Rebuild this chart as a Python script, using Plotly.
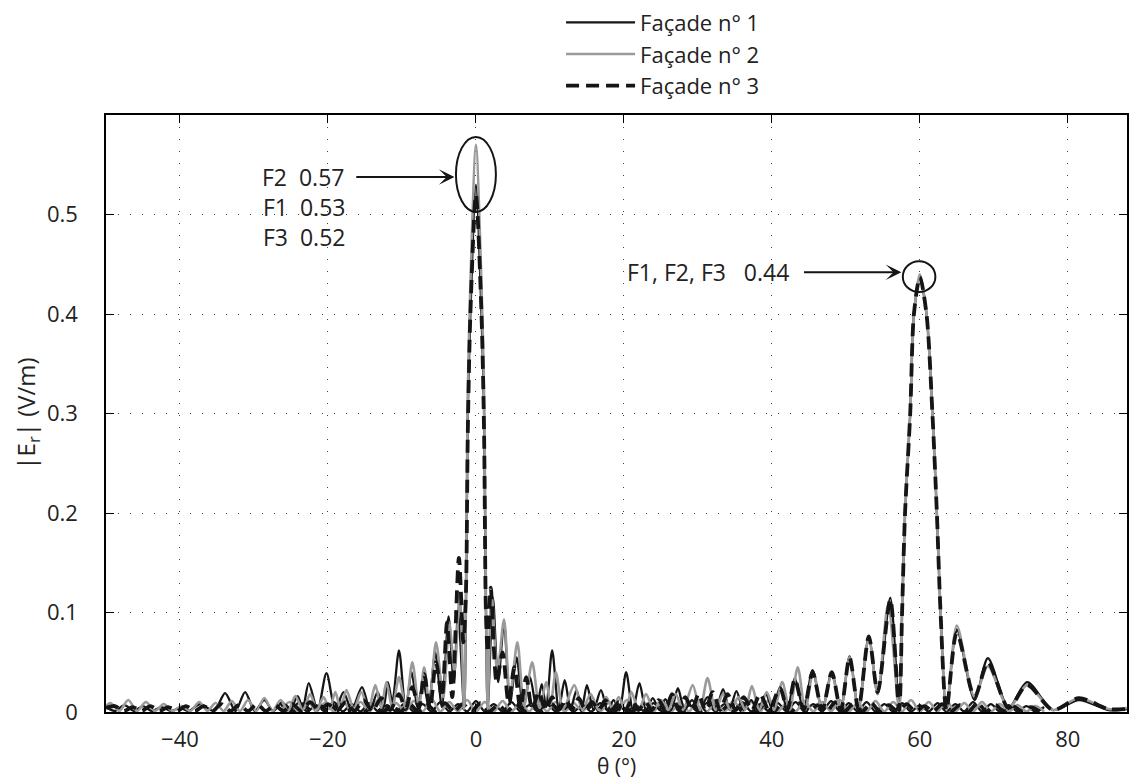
import plotly.graph_objects as go

# ---------------- data ----------------
f1_x = [-50.0, -48.8, -47.5, -46.2, -45.0, -43.8, -42.5, -41.2, -40.0, -38.8,
        -37.3, -35.4, -33.9, -32.5, -31.2, -29.9, -28.6, -27.4, -26.2, -25.2,
        -24.1, -23.4, -22.6, -21.4, -20.2, -19.0, -17.9, -16.8, -15.4, -14.3,
        -13.3, -12.5, -11.9, -11.3, -10.4, -9.5, -8.7, -7.9, -7.1, -6.4,
        -5.5, -4.6, -3.7, -3.0, -2.4, -1.6, -1.35, -1.1, -0.75, 0.0,
        0.75, 1.1, 1.35, 1.6, 2.3, 3.0, 3.8, 4.6, 5.5, 6.4,
        7.3, 8.2, 8.9, 9.5, 10.3, 11.2, 12.0, 12.8, 13.6, 14.3,
        15.0, 15.9, 16.9, 17.8, 18.6, 19.4, 20.3, 21.2, 22.1, 23.0,
        23.9, 24.8, 25.6, 26.4, 27.3, 28.2, 29.2, 30.2, 31.3, 32.4,
        33.4, 34.3, 35.2, 36.2, 37.2, 38.1, 39.2, 40.1, 41.1, 42.1,
        43.1, 44.3, 45.5, 46.8, 48.1, 49.3, 50.5, 51.7, 53.1, 54.3,
        56.0, 57.2, 57.6, 58.0, 58.7, 59.2, 60.0, 60.9, 61.7, 62.3,
        62.8, 63.6, 65.0, 67.4, 69.2, 72.0, 74.5, 78.0, 81.5, 85.5,
        88.0]
f1_y = [0.005, 0.001, 0.007, 0.001, 0.006, 0.001, 0.005, 0.001, 0.004, 0.001,
        0.008, 0.001, 0.019, 0.001, 0.020, 0.001, 0.012, 0.001, 0.010, 0.001,
        0.016, 0.004, 0.029, 0.002, 0.039, 0.002, 0.020, 0.002, 0.025, 0.002,
        0.020, 0.004, 0.030, 0.010, 0.062, 0.003, 0.040, 0.005, 0.030, 0.005,
        0.060, 0.005, 0.096, 0.030, 0.100, 0.004, 0.10, 0.30, 0.40, 0.53,
        0.40, 0.30, 0.10, 0.004, 0.115, 0.030, 0.090, 0.008, 0.055, 0.004,
        0.035, 0.004, 0.028, 0.005, 0.062, 0.003, 0.032, 0.003, 0.022, 0.003,
        0.027, 0.002, 0.022, 0.002, 0.012, 0.002, 0.040, 0.002, 0.029, 0.002,
        0.014, 0.002, 0.013, 0.002, 0.024, 0.002, 0.012, 0.002, 0.015, 0.002,
        0.023, 0.002, 0.021, 0.002, 0.012, 0.002, 0.018, 0.002, 0.025, 0.002,
        0.034, 0.002, 0.042, 0.002, 0.040, 0.002, 0.056, 0.003, 0.076, 0.018,
        0.115, 0.002, 0.10, 0.20, 0.30, 0.40, 0.437, 0.40, 0.30, 0.20,
        0.10, 0.002, 0.083, 0.012, 0.054, 0.004, 0.030, 0.002, 0.012, 0.002,
        0.003]

f2_x = [-50.0, -49.4, -48.2, -47.0, -45.8, -44.6, -43.4, -42.2, -41.0, -39.8,
        -38.6, -37.4, -36.3, -35.2, -34.1, -33.0, -31.9, -30.8, -29.7, -28.6,
        -27.5, -26.4, -25.4, -24.4, -23.4, -22.4, -21.5, -20.6, -19.8, -19.0,
        -18.3, -17.5, -16.5, -15.5, -14.5, -13.6, -12.8, -12.1, -11.3, -10.4,
        -9.5, -8.6, -7.7, -7.0, -6.3, -5.4, -4.4, -3.6, -2.9, -2.2,
        -1.6, -1.35, -1.1, -0.75, 0.0, 0.75, 1.1, 1.35, 1.6, 2.1,
        2.9, 3.8, 4.6, 5.6, 6.5, 7.6, 8.6, 9.5, 10.1, 10.8,
        11.8, 13.3, 14.4, 15.5, 16.6, 17.6, 18.5, 19.3, 20.2, 21.0,
        22.0, 23.0, 24.0, 25.0, 26.0, 27.0, 28.0, 29.3, 30.3, 31.3,
        32.4, 33.4, 34.4, 35.5, 36.4, 37.3, 38.3, 39.3, 40.3, 41.4,
        42.4, 43.5, 44.5, 45.6, 46.8, 48.1, 49.3, 50.5, 51.7, 53.1,
        54.3, 55.7, 57.2, 57.6, 58.0, 58.7, 59.2, 60.0, 60.9, 61.7,
        62.3, 62.8, 63.6, 65.0, 67.4, 69.2, 72.0, 74.5, 78.0, 81.5,
        85.5, 88.0]
f2_y = [0.006, 0.009, 0.001, 0.012, 0.001, 0.010, 0.001, 0.008, 0.001, 0.006,
        0.001, 0.010, 0.001, 0.009, 0.001, 0.011, 0.001, 0.012, 0.001, 0.014,
        0.001, 0.012, 0.001, 0.016, 0.002, 0.018, 0.002, 0.015, 0.003, 0.020,
        0.003, 0.022, 0.003, 0.020, 0.003, 0.027, 0.004, 0.030, 0.004, 0.035,
        0.004, 0.050, 0.005, 0.045, 0.008, 0.070, 0.015, 0.090, 0.040, 0.120,
        0.003, 0.12, 0.32, 0.43, 0.57, 0.43, 0.32, 0.12, 0.003, 0.120,
        0.040, 0.093, 0.015, 0.070, 0.006, 0.050, 0.004, 0.030, 0.008, 0.040,
        0.003, 0.027, 0.002, 0.018, 0.002, 0.015, 0.002, 0.015, 0.002, 0.020,
        0.002, 0.018, 0.002, 0.012, 0.002, 0.018, 0.002, 0.027, 0.002, 0.034,
        0.002, 0.018, 0.002, 0.015, 0.002, 0.026, 0.002, 0.020, 0.002, 0.030,
        0.002, 0.045, 0.002, 0.040, 0.002, 0.038, 0.002, 0.055, 0.003, 0.074,
        0.018, 0.108, 0.002, 0.10, 0.20, 0.30, 0.40, 0.44, 0.40, 0.30,
        0.20, 0.10, 0.002, 0.087, 0.015, 0.046, 0.004, 0.027, 0.002, 0.014,
        0.003, 0.004]

f3_x = [-50.0, -48.8, -47.6, -46.4, -45.2, -44.0, -42.8, -41.6, -40.4, -39.2,
        -38.0, -36.8, -35.6, -34.4, -33.2, -32.0, -30.8, -29.6, -28.4, -27.2,
        -26.0, -24.8, -23.6, -22.4, -21.2, -20.0, -18.8, -17.6, -16.4, -15.2,
        -14.0, -12.8, -11.6, -10.4, -9.5, -8.6, -7.7, -7.0, -6.2, -5.4,
        -4.6, -3.9, -3.2, -2.3, -1.7, -1.35, -1.1, -0.75, 0.0, 0.75,
        1.1, 1.35, 1.6, 2.0, 2.8, 3.6, 4.4, 5.2, 6.0, 6.8,
        7.6, 8.5, 9.4, 10.3, 11.2, 12.1, 13.0, 13.9, 14.8, 15.7,
        16.6, 17.5, 18.4, 19.3, 20.2, 21.1, 22.0, 22.9, 23.8, 24.7,
        25.6, 26.5, 27.4, 28.3, 29.2, 30.1, 31.0, 32.0, 33.0, 34.0,
        35.1, 36.2, 37.3, 38.4, 39.6, 41.1, 42.1, 43.1, 44.3, 45.5,
        46.8, 48.1, 49.3, 50.5, 51.7, 53.1, 54.3, 56.0, 57.2, 57.6,
        58.0, 58.7, 59.2, 60.0, 60.9, 61.7, 62.3, 62.8, 63.6, 65.0,
        67.4, 69.2, 72.0, 74.5, 78.0, 81.5, 85.5, 88.0]
f3_y = [0.004, 0.006, 0.001, 0.005, 0.001, 0.006, 0.001, 0.005, 0.001, 0.006,
        0.001, 0.006, 0.001, 0.008, 0.001, 0.007, 0.001, 0.008, 0.001, 0.007,
        0.001, 0.008, 0.001, 0.010, 0.001, 0.008, 0.001, 0.010, 0.001, 0.012,
        0.001, 0.014, 0.002, 0.018, 0.003, 0.025, 0.004, 0.038, 0.004, 0.050,
        0.015, 0.090, 0.015, 0.155, 0.070, 0.12, 0.28, 0.40, 0.52, 0.40,
        0.28, 0.10, 0.060, 0.125, 0.030, 0.060, 0.010, 0.045, 0.004, 0.035,
        0.003, 0.020, 0.002, 0.015, 0.002, 0.012, 0.002, 0.014, 0.002, 0.010,
        0.002, 0.012, 0.002, 0.010, 0.002, 0.012, 0.002, 0.010, 0.002, 0.012,
        0.002, 0.018, 0.002, 0.015, 0.002, 0.018, 0.002, 0.020, 0.002, 0.018,
        0.002, 0.015, 0.002, 0.018, 0.002, 0.024, 0.002, 0.033, 0.002, 0.040,
        0.002, 0.040, 0.002, 0.055, 0.003, 0.076, 0.020, 0.113, 0.002, 0.10,
        0.20, 0.30, 0.40, 0.437, 0.40, 0.30, 0.20, 0.10, 0.002, 0.080,
        0.015, 0.050, 0.004, 0.027, 0.002, 0.014, 0.003, 0.003]

# low-level ripple curves near the axis
floor_x = [-26.4, -25.2, -24.0, -22.8, -21.6, -20.4, -19.2, -18.0, -16.8, -15.6,
           -14.4, -13.2, -12.0, -10.8, -9.6, -8.4, -7.2, -6.0, -4.8, -3.6,
           -2.4, -1.2, 0.0, 1.2, 2.4, 3.6, 4.8, 6.0, 7.2, 8.4,
           9.6, 10.8, 12.0, 13.2, 14.4, 15.6, 16.8, 18.0, 19.2, 20.4,
           21.6, 22.8, 24.0, 25.2, 26.4, 27.6, 28.8, 30.0, 31.2, 32.4,
           33.6, 34.8, 36.0, 37.2, 38.4, 39.6, 40.8, 42.0, 43.2, 44.4,
           45.6, 46.8, 48.0, 49.2, 50.4, 51.6, 52.8, 54.0, 55.2, 56.4,
           57.6, 58.8, 60.0, 61.2, 62.4, 63.6, 64.8, 66.0, 67.2, 68.4,
           69.6, 70.8, 72.0, 73.2, 74.4, 75.6, 76.8]
floor1_y = [0.008, 0.0005, 0.009, 0.0005, 0.007, 0.0005, 0.010, 0.0005, 0.008, 0.0005,
            0.009, 0.0005, 0.007, 0.0005, 0.009, 0.0005, 0.008, 0.0005, 0.010, 0.0005,
            0.008, 0.0005, 0.011, 0.0005, 0.008, 0.0005, 0.010, 0.0005, 0.007, 0.0005,
            0.009, 0.0005, 0.008, 0.0005, 0.007, 0.0005, 0.009, 0.0005, 0.008, 0.0005,
            0.007, 0.0005, 0.009, 0.0005, 0.008, 0.0005, 0.007, 0.0005, 0.009, 0.0005,
            0.008, 0.0005, 0.010, 0.0005, 0.008, 0.0005, 0.009, 0.0005, 0.010, 0.0005,
            0.008, 0.0005, 0.011, 0.0005, 0.009, 0.0005, 0.010, 0.0005, 0.008, 0.0005,
            0.009, 0.0005, 0.007, 0.0005, 0.009, 0.0005, 0.008, 0.0005, 0.010, 0.0005,
            0.008, 0.0005, 0.007, 0.0005, 0.006, 0.0005, 0.005]
floor2_y = [0.0005, 0.010, 0.0005, 0.012, 0.0005, 0.009, 0.0005, 0.011, 0.0005, 0.010,
            0.0005, 0.012, 0.0005, 0.009, 0.0005, 0.011, 0.0005, 0.013, 0.0005, 0.010,
            0.0005, 0.012, 0.0005, 0.010, 0.0005, 0.011, 0.0005, 0.009, 0.0005, 0.012,
            0.0005, 0.010, 0.0005, 0.009, 0.0005, 0.011, 0.0005, 0.010, 0.0005, 0.012,
            0.0005, 0.009, 0.0005, 0.011, 0.0005, 0.010, 0.0005, 0.012, 0.0005, 0.009,
            0.0005, 0.011, 0.0005, 0.010, 0.0005, 0.012, 0.0005, 0.009, 0.0005, 0.011,
            0.0005, 0.010, 0.0005, 0.012, 0.0005, 0.009, 0.0005, 0.011, 0.0005, 0.010,
            0.0005, 0.012, 0.0005, 0.010, 0.0005, 0.011, 0.0005, 0.009, 0.0005, 0.010,
            0.0005, 0.008, 0.0005, 0.007, 0.0005, 0.006, 0.0005]
floor3_x = [-25.8, -24.6, -23.4, -22.2, -21.0, -19.8, -18.6, -17.4, -16.2, -15.0,
            -13.8, -12.6, -11.4, -10.2, -9.0, -7.8, -6.6, -5.4, -4.2, -3.0,
            -1.8, -0.6, 0.6, 1.8, 3.0, 4.2, 5.4, 6.6, 7.8, 9.0,
            10.2, 11.4, 12.6, 13.8, 15.0, 16.2, 17.4, 18.6, 19.8, 21.0,
            22.2, 23.4, 24.6, 25.8, 27.0, 28.2, 29.4, 30.6, 31.8, 33.0,
            34.2, 35.4, 36.6, 37.8, 39.0, 40.2, 41.4, 42.6, 43.8, 45.0,
            46.2, 47.4, 48.6, 49.8, 51.0, 52.2, 53.4, 54.6, 55.8, 57.0,
            58.2, 59.4, 60.6, 61.8, 63.0, 64.2, 65.4, 66.6, 67.8, 69.0,
            70.2, 71.4, 72.6, 73.8, 75.0, 76.2]
floor3_y = [0.007, 0.0005, 0.008, 0.0005, 0.006, 0.0005, 0.008, 0.0005, 0.007, 0.0005,
            0.008, 0.0005, 0.006, 0.0005, 0.008, 0.0005, 0.007, 0.0005, 0.009, 0.0005,
            0.008, 0.0005, 0.009, 0.0005, 0.007, 0.0005, 0.008, 0.0005, 0.006, 0.0005,
            0.008, 0.0005, 0.007, 0.0005, 0.006, 0.0005, 0.008, 0.0005, 0.007, 0.0005,
            0.006, 0.0005, 0.008, 0.0005, 0.007, 0.0005, 0.006, 0.0005, 0.008, 0.0005,
            0.007, 0.0005, 0.009, 0.0005, 0.007, 0.0005, 0.008, 0.0005, 0.009, 0.0005,
            0.007, 0.0005, 0.010, 0.0005, 0.008, 0.0005, 0.009, 0.0005, 0.007, 0.0005,
            0.008, 0.0005, 0.006, 0.0005, 0.008, 0.0005, 0.007, 0.0005, 0.009, 0.0005,
            0.007, 0.0005, 0.006, 0.0005, 0.005, 0.0005]

series_names = ["Façade n° 1", "Façade n° 2", "Façade n° 3"]
x_ticks = [-40, -20, 0, 20, 40, 60, 80]
y_ticks = [0, 0.1, 0.2, 0.3, 0.4, 0.5]
y_ticktext = ["0", "0.1", "0.2", "0.3", "0.4", "0.5"]

for a, b in [(f1_x, f1_y), (f2_x, f2_y), (f3_x, f3_y), (floor_x, floor1_y),
             (floor_x, floor2_y), (floor3_x, floor3_y)]:
    assert len(a) == len(b), (len(a), len(b))

# ---------------- styling ----------------
FONT = "Open Sans"
TXT = "#222222"
BLACK = "#151515"
GREY = "#9a9a9a"
DASH = "13px,7px"
styles = [dict(color=BLACK, width=2.3),
          dict(color=GREY, width=2.6),
          dict(color=BLACK, width=3.8, dash=DASH)]

fig = go.Figure()
floors = [(floor_x, floor1_y), (floor_x, floor2_y), (floor3_x, floor3_y)]
for (fx, fy), st, nm in zip(floors, styles, series_names):
    fig.add_trace(go.Scatter(x=fx, y=fy, mode="lines", line=dict(shape="spline", smoothing=0.9, **st),
                             showlegend=False, legendgroup=nm, hoverinfo="skip"))
mains = [(f1_x, f1_y), (f2_x, f2_y), (f3_x, f3_y)]
for (mx, my), st, nm in zip(mains, styles, series_names):
    fig.add_trace(go.Scatter(x=mx, y=my, mode="lines", name=nm, legendgroup=nm,
                             line=dict(shape="spline", smoothing=0.8, **st)))

axis_common = dict(showline=True, linecolor="black", linewidth=1.5, mirror="ticks",
                   ticks="inside", ticklen=8, tickwidth=1.3, tickcolor="black",
                   showgrid=True, gridcolor="#444444", gridwidth=1, griddash="1px,11px",
                   zeroline=False, tickfont=dict(family=FONT, size=22, color=TXT))

fig.update_xaxes(range=[-50, 88], tickvals=x_ticks, ticklabelstandoff=7,
                 title=dict(text="θ (°)", font=dict(family=FONT, size=21, color=TXT), standoff=0),
                 **axis_common)
fig.update_yaxes(range=[0, 0.6], tickvals=y_ticks, ticktext=y_ticktext, ticklabelstandoff=22,
                 title=dict(text="|E<sub>r</sub>| (V/m)", font=dict(family=FONT, size=24, color=TXT), standoff=5),
                 **axis_common)

ann_font = dict(family=FONT, size=23, color=TXT)
NB = "\u00a0\u00a0"
annotations = [
    # label with arrow pointing at the 0° peak
    dict(x=-2.9, y=0.5377, ax=-23.4, ay=0.5377, axref="x", ayref="y", text="F2" + NB + "0.57",
         showarrow=True, arrowhead=3, arrowsize=1.3, arrowwidth=2, arrowcolor=BLACK,
         startstandoff=11, font=ann_font),
    dict(x=-29.0, y=0.5075, text="F1" + NB + "0.53", showarrow=False, xanchor="left", yanchor="middle", font=ann_font),
    dict(x=-29.0, y=0.4774, text="F3" + NB + "0.52", showarrow=False, xanchor="left", yanchor="middle", font=ann_font),
    # label with arrow pointing at the 60° peak
    dict(x=57.5, y=0.442, ax=31.3, ay=0.442, axref="x", ayref="y", text="F1, F2, F3" + NB + "\u00a00.44",
         showarrow=True, arrowhead=3, arrowsize=1.3, arrowwidth=2, arrowcolor=BLACK,
         startstandoff=14, font=ann_font),
]
shapes = [
    dict(type="circle", xref="x", yref="y", x0=-2.7, x1=2.7, y0=0.5025, y1=0.578,
         line=dict(color=BLACK, width=2)),
    dict(type="circle", xref="x", yref="y", x0=57.7, x1=62.1, y0=0.422, y1=0.453,
         line=dict(color=BLACK, width=2)),
]

fig.update_layout(
    width=1139, height=780,
    margin=dict(l=106, r=12, t=115, b=68, autoexpand=False),
    paper_bgcolor="white", plot_bgcolor="white",
    font=dict(family=FONT, size=21, color=TXT),
    showlegend=True,
    legend=dict(x=0.4457, y=1.19, xanchor="left", yanchor="top", bgcolor="rgba(0,0,0,0)",
                font=dict(family=FONT, size=22, color=TXT), itemwidth=69,
                tracegroupgap=0),
    annotations=annotations, shapes=shapes,
)

fig.write_html("out.html", config={"displayModeBar": False},
               post_script="document.body.style.margin='0px';")
